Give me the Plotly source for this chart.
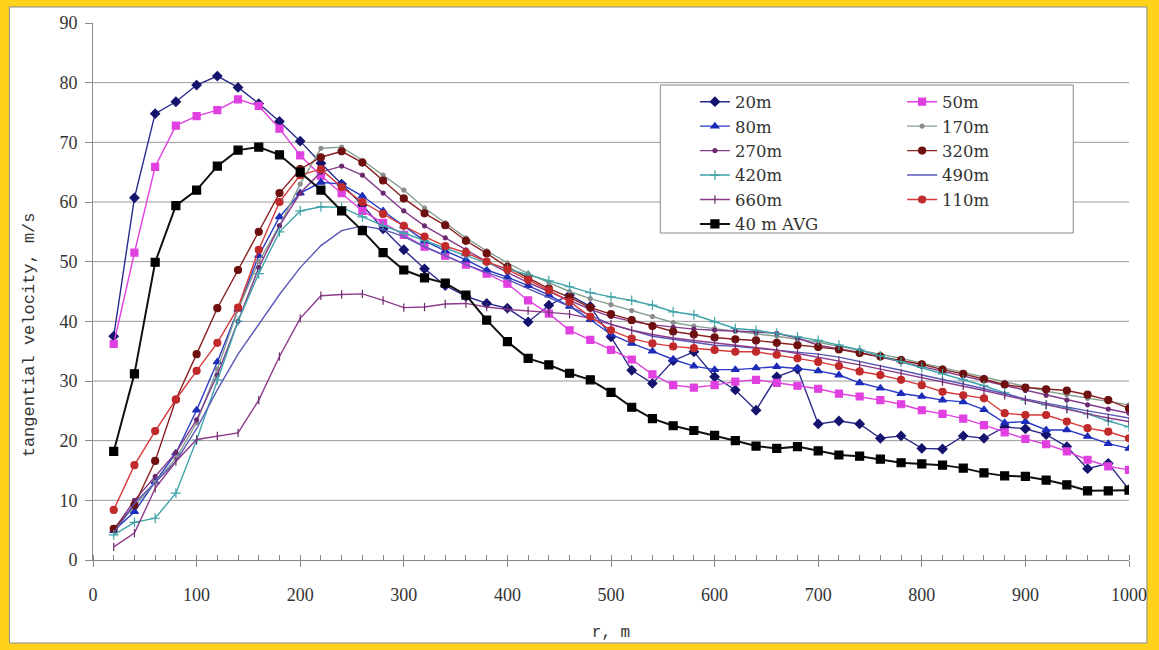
import plotly.graph_objects as go

# radial distance r (m), sampled every 20 m
r_m = list(range(20, 1001, 20))

v_20m = [37.5, 60.7, 74.8, 76.8, 79.6, 81.1, 79.2, 76.5, 73.5, 70.2,
         66.5, 63.0, 59.5, 55.5, 52.0, 48.8, 46.0, 44.2, 43.0, 42.2,
         39.9, 42.7, 44.4, 42.5, 37.4, 31.8, 29.6, 33.4, 34.9, 30.7,
         28.5, 25.1, 30.7, 32.0, 22.8, 23.3, 22.8, 20.4, 20.8, 18.7,
         18.6, 20.8, 20.4, 22.3, 22.0, 21.0, 19.0, 15.3, 16.2, 11.8]
v_50m = [36.2, 51.5, 65.9, 72.8, 74.4, 75.4, 77.2, 76.1, 72.3, 67.8,
         64.4, 61.5, 58.5, 56.5, 54.5, 52.5, 51.0, 49.5, 48.0, 46.3,
         43.5, 41.3, 38.5, 36.9, 35.2, 33.6, 31.1, 29.3, 28.9, 29.3,
         29.9, 30.2, 29.7, 29.2, 28.7, 27.9, 27.4, 26.8, 26.1, 25.1,
         24.5, 23.7, 22.6, 21.4, 20.3, 19.4, 18.2, 16.8, 15.7, 15.1]
v_80m = [4.9, 8.1, 13.1, 17.9, 25.1, 33.2, 42.0, 51.0, 57.5, 61.5,
         63.3, 63.0, 61.0, 58.5, 56.0, 53.5, 51.8, 50.3, 48.6, 47.4,
         46.0, 44.4, 42.5, 40.3, 37.8, 36.3, 35.0, 33.6, 32.5, 31.9,
         31.9, 32.2, 32.4, 32.1, 31.7, 31.0, 29.7, 28.8, 27.9, 27.4,
         26.8, 26.5, 25.2, 23.0, 23.2, 21.8, 21.8, 20.7, 19.5, 18.7]
v_170m = [5.0, 9.0, 13.0, 17.0, 23.0, 32.0, 42.0, 50.0, 56.0, 63.0,
          69.0, 69.2, 67.0, 64.5, 62.0, 59.0, 56.5, 54.0, 51.8, 49.8,
          48.0, 46.5, 45.0, 43.8, 42.8, 41.8, 40.8, 39.8, 39.2, 38.8,
          38.3, 37.9, 37.5, 37.0, 36.5, 35.8, 35.2, 34.5, 33.8, 33.0,
          32.2, 31.4, 30.6, 29.8, 29.0, 28.3, 27.7, 27.1, 26.5, 26.0]
v_270m = [5.0, 10.0, 14.0, 18.0, 23.5, 31.0, 40.0, 49.0, 56.0, 61.5,
          65.0, 66.0, 64.5, 61.5, 58.5, 56.0, 54.0, 52.0, 50.0, 48.2,
          46.5, 45.0, 43.5, 42.0, 40.8, 40.0, 39.4, 39.0, 38.7, 38.5,
          38.4, 38.2, 38.0, 37.2, 36.0, 35.4, 34.8, 34.0, 33.2, 32.4,
          31.6, 30.8, 30.0, 29.2, 28.4, 27.6, 26.8, 26.0, 25.3, 24.6]
v_320m = [5.2, 9.2, 16.6, 26.9, 34.5, 42.2, 48.6, 55.0, 61.5, 65.5,
          67.5, 68.5, 66.6, 63.6, 60.6, 58.1, 56.1, 53.5, 51.4, 49.1,
          47.3, 45.5, 44.0, 42.3, 41.2, 40.2, 39.2, 38.3, 37.8, 37.3,
          37.0, 36.8, 36.4, 36.0, 35.7, 35.3, 34.7, 34.1, 33.5, 32.8,
          31.9, 31.2, 30.3, 29.4, 28.9, 28.6, 28.4, 27.7, 26.8, 25.4]
v_420m = [4.2, 6.3, 7.0, 11.2, 20.1, 30.2, 40.0, 48.0, 55.0, 58.5,
          59.2, 59.1, 57.5, 56.0, 54.8, 53.5, 52.2, 51.0, 49.8, 48.8,
          47.8, 46.8, 45.8, 44.8, 44.1, 43.5, 42.7, 41.6, 41.1, 39.9,
          38.8, 38.5, 38.0, 37.4, 36.8, 36.0, 35.2, 34.2, 33.2, 32.3,
          31.2, 30.2, 29.2, 28.0, 26.8, 26.0, 25.5, 24.5, 23.3, 22.3]
v_490m = [4.5, 9.5, 13.0, 16.5, 22.0, 28.5, 34.5, 39.5, 44.5, 49.0,
          52.7, 55.2, 56.0, 55.4, 54.2, 52.5, 51.0, 49.5, 48.2, 47.0,
          45.5, 44.0, 42.5, 41.0, 39.5, 38.5, 37.5, 37.0, 36.5, 36.0,
          35.8, 35.5, 35.2, 34.8, 34.5, 34.0, 33.3, 32.5, 31.8, 31.0,
          30.3, 29.5, 28.7, 27.8, 27.0, 26.3, 25.6, 25.0, 24.4, 23.8]
v_660m = [2.2, 4.5, 12.0, 16.5, 20.2, 20.8, 21.3, 26.8, 34.1, 40.5,
          44.3, 44.5, 44.6, 43.5, 42.3, 42.4, 42.9, 43.0, 42.4, 42.0,
          41.8, 41.5, 41.2, 40.5, 39.5, 38.5, 37.8, 37.2, 36.8, 36.4,
          36.0, 35.6, 35.2, 34.6, 34.0, 33.4, 32.7, 32.0, 31.3, 30.6,
          29.9, 29.2, 28.4, 27.6, 26.8, 26.0, 25.3, 24.5, 23.8, 23.2]
v_110m = [8.4, 15.9, 21.6, 26.9, 31.7, 36.4, 42.3, 52.0, 60.0, 64.5,
          65.5, 62.5, 60.0, 58.0, 56.0, 54.2, 52.6, 51.5, 50.0, 48.7,
          47.0, 45.2, 43.3, 40.8, 38.5, 37.1, 36.3, 35.8, 35.5, 35.2,
          34.9, 34.9, 34.4, 33.8, 33.2, 32.5, 31.6, 31.0, 30.2, 29.3,
          28.2, 27.6, 27.1, 24.6, 24.3, 24.3, 23.2, 22.1, 21.5, 20.4]
v_avg40 = [18.2, 31.2, 49.9, 59.4, 62.0, 66.0, 68.7, 69.2, 67.9, 65.0,
           62.0, 58.5, 55.2, 51.5, 48.6, 47.3, 46.4, 44.4, 40.2, 36.6,
           33.8, 32.7, 31.3, 30.2, 28.1, 25.6, 23.7, 22.5, 21.7, 20.9,
           20.0, 19.1, 18.7, 19.0, 18.3, 17.6, 17.4, 16.9, 16.3, 16.1,
           15.9, 15.4, 14.6, 14.1, 14.0, 13.4, 12.6, 11.6, 11.6, 11.7]

y_ticks = list(range(0, 91, 10))
x_ticks = list(range(0, 1001, 100))

# (name, values, line colour, marker symbol, marker size, marker colour, legend column)
series = [
    ("20m", v_20m, "#2a2a8c", "diamond", 7, "#14146e", "legend"),
    ("50m", v_50m, "#e040e0", "square", 7, "#e040e0", "legend2"),
    ("80m", v_80m, "#2a3ac4", "triangle-up", 7, "#1c2cb8", "legend"),
    ("170m", v_170m, "#86a090", "circle", 4, "#8c8c8c", "legend2"),
    ("270m", v_270m, "#843a8c", "circle", 4, "#6a2a70", "legend"),
    ("320m", v_320m, "#8a2020", "circle", 7, "#6e1010", "legend2"),
    ("420m", v_420m, "#3fa3a8", "cross-thin", 7, "#3fa3a8", "legend"),
    ("490m", v_490m, "#5858b8", None, 0, "#5858b8", "legend2"),
    ("660m", v_660m, "#8c3a8c", "line-ns", 6, "#6a2a6a", "legend"),
    ("110m", v_110m, "#d83a3a", "circle", 7, "#c02a2a", "legend2"),
    ("40 m AVG", v_avg40, "#111111", "square", 8, "#000000", "legend"),
]

fig = go.Figure()
for name, vals, lcol, sym, msize, mcol, leg in series:
    lw = 2.0 if name == "40 m AVG" else 1.4
    if sym is None:
        fig.add_trace(go.Scatter(x=r_m, y=vals, name=name, mode="lines",
                                 legend=leg, line=dict(color=lcol, width=lw)))
    else:
        fig.add_trace(go.Scatter(
            x=r_m, y=vals, name=name, mode="lines+markers", legend=leg,
            line=dict(color=lcol, width=lw),
            marker=dict(symbol=sym, size=msize, color=mcol,
                        line=dict(color=mcol, width=1.2))))

# white chart panel framed by a thin grey line, inside the yellow border
fig.add_shape(type="rect", xref="paper", yref="paper",
              x0=-0.0807, x1=1.0173, y0=-0.1546, y1=1.0298,
              fillcolor="white", line=dict(color="#8a8a8a", width=1),
              layer="below")

# horizontal grid lines (none at the top value)
for yv in y_ticks[1:-1]:
    fig.add_shape(type="line", xref="paper", yref="y", x0=0, x1=1,
                  y0=yv, y1=yv, line=dict(color="#9a9a9a", width=1),
                  layer="below")

# legend box shared by the two legend columns
fig.add_shape(type="rect", xref="paper", yref="paper",
              x0=0.5476, x1=0.9462, y0=0.6089, y1=0.8845,
              fillcolor="white", line=dict(color="#8a8a8a", width=1),
              layer="above")

tick_font = dict(family="Liberation Serif", size=18, color="#333333")
title_font = dict(family="Liberation Mono", size=16, color="#333333")
legend_font = dict(family="DejaVu Serif", size=16.5, color="#333333")

legend_common = dict(xanchor="left", yanchor="top", orientation="v",
                     bgcolor="rgba(0,0,0,0)", borderwidth=0,
                     font=legend_font, itemwidth=30, tracegroupgap=0)

# vertical axis title, placed a little below the axis midpoint
fig.add_annotation(text="tangential velocity, m/s", xref="paper", yref="paper",
                   x=-0.0605, y=0.419, xanchor="center", yanchor="middle",
                   textangle=-90, showarrow=False,
                   font=dict(family="Liberation Mono", size=17, color="#333333"))

fig.update_layout(
    width=1159, height=650,
    margin=dict(l=93, r=25, t=23, b=90),
    paper_bgcolor="#ffd21c",
    plot_bgcolor="white",
    showlegend=True,
    legend=dict(x=0.581, y=0.8855, **legend_common),
    legend2=dict(x=0.781, y=0.8855, **legend_common),
    xaxis=dict(
        range=[0, 1000], tickvals=x_ticks, showgrid=False, zeroline=False,
        showline=True, linecolor="#8a8a8a", linewidth=1,
        ticks="outside", ticklen=6, tickcolor="#8a8a8a",
        minor=dict(dtick=20, tick0=0, ticks="inside", ticklen=5,
                   tickcolor="#8a8a8a", showgrid=False),
        tickfont=tick_font, ticklabelstandoff=12,
        title=dict(text="r, m", font=title_font, standoff=22),
    ),
    yaxis=dict(
        range=[0, 90], tickvals=y_ticks, showgrid=False, zeroline=False,
        showline=True, linecolor="#8a8a8a", linewidth=1,
        ticks="outside", ticklen=7, tickcolor="#8a8a8a",
        tickfont=tick_font, ticklabelstandoff=4,
    ),
)

fig.write_html("out.html")
